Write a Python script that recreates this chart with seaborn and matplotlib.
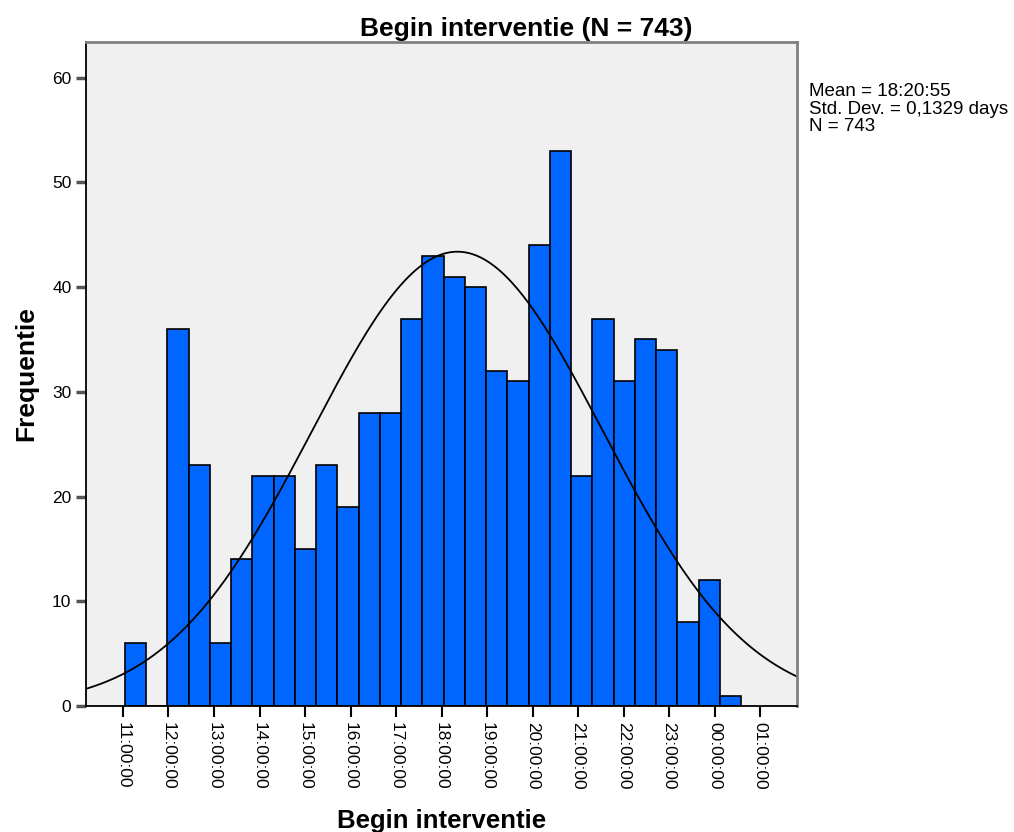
import numpy as np
import pandas as pd
import matplotlib
matplotlib.use('Agg')
import matplotlib.pyplot as plt
import seaborn as sns
from matplotlib.ticker import FuncFormatter

# bin counts (half-hour-ish bins, 29 of them)
counts = [6, 0, 36, 23, 6, 14, 22, 22, 15, 23, 19, 28, 28, 37, 43, 41,
          40, 32, 31, 44, 53, 22, 37, 31, 35, 34, 8, 12, 1]
bin_start = 11.044   # hours
bin_width = 0.4668   # hours
mean_hours = 18 + 20 / 60 + 55 / 3600
sd_hours = 0.1329 * 24
n_total = 743
hour_ticks = list(range(11, 26))

edges = bin_start + bin_width * np.arange(len(counts) + 1)
centers = (edges[:-1] + edges[1:]) / 2
df = pd.DataFrame({'hour': centers, 'count': counts})

sns.set_theme(style='white')
plt.rcParams['font.family'] = ['Liberation Sans', 'DejaVu Sans']
plt.rcParams['text.color'] = 'black'
plt.rcParams['axes.labelcolor'] = 'black'
plt.rcParams['xtick.color'] = 'black'
plt.rcParams['ytick.color'] = 'black'

fig = plt.figure(figsize=(10.14, 8.32), dpi=100)
ax = fig.add_axes([0.0848, 0.1514, 0.7012, 0.7981])
ax.set_facecolor('#F0F0F0')

sns.histplot(data=df, x='hour', weights='count',
             binwidth=bin_width, binrange=(edges[0], edges[-1]), ax=ax,
             color='#0066FF', alpha=1, edgecolor='black', linewidth=1.2)

xlim = (10.187, 25.81)
xs = np.linspace(xlim[0], xlim[1], 400)
pdf = n_total * bin_width / (sd_hours * np.sqrt(2 * np.pi)) * \
    np.exp(-0.5 * ((xs - mean_hours) / sd_hours) ** 2)
ax.plot(xs, pdf, color='black', linewidth=1.3)

ax.set_xlim(*xlim)
ax.set_ylim(0, 63.4)
ax.set_xticks(hour_ticks)
ax.xaxis.set_major_formatter(FuncFormatter(lambda v, p: f'{int(round(v)) % 24:02d}:00:00'))
ax.set_yticks(range(0, 61, 10))
ax.tick_params(axis='x', rotation=270, labelsize=12.5, length=8, width=1.5,
               direction='out', bottom=True, color='black', labelcolor='black')
ax.tick_params(axis='y', labelsize=12.5, length=7, width=2.5, direction='out',
               left=True, color='#555555', labelcolor='black')

for side in ['top', 'right']:
    ax.spines[side].set_color('#808080')
    ax.spines[side].set_linewidth(2)
for side in ['left', 'bottom']:
    ax.spines[side].set_color('black')
    ax.spines[side].set_linewidth(1.3)

fig.text(0.519, 0.965, 'Begin interventie (N = 743)', fontsize=19,
         fontweight='bold', ha='center', va='center')
ax.set_xlabel('Begin interventie', fontsize=18.5, fontweight='bold', labelpad=14)
ax.set_ylabel('Frequentie', fontsize=19, fontweight='bold', labelpad=10)

fig.text(0.798, 0.900, 'Mean = 18:20:55\nStd. Dev. = 0,1329 days\nN = 743',
         fontsize=13.5, va='top', ha='left', linespacing=1.05)

fig.savefig('out.png', dpi=100)
